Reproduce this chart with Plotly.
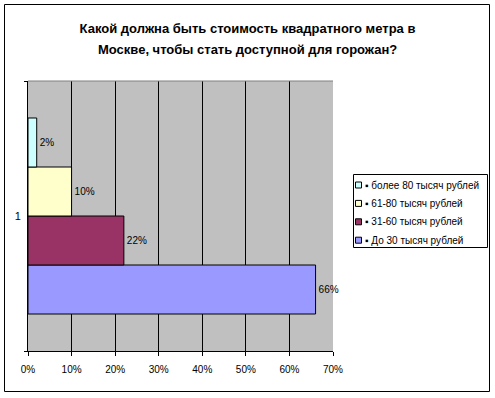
import plotly.graph_objects as go

title_lines = ["Какой должна быть стоимость квадратного метра в",
               "Москве, чтобы стать доступной для горожан?"]
category = ["1"]
series_names = ["До 30 тысяч рублей", "31-60 тысяч рублей", "61-80 тысяч рублей", "более 80 тысяч рублей"]
series_values = [66, 22, 10, 2]
series_colors = ["#9999FF", "#993366", "#FFFFCC", "#CCFFFF"]
x_ticks = [0, 10, 20, 30, 40, 50, 60, 70]

FONT = "Arial, 'Liberation Sans', sans-serif"

fig = go.Figure()
for name, val, col in zip(series_names, series_values, series_colors):
    fig.add_trace(go.Bar(
        y=category, x=[val], name=name, orientation="h",
        marker=dict(color=col, line=dict(color="black", width=1)),
        text=[f"{val}%"], textposition="outside",
        textfont=dict(family=FONT, size=10, color="black"),
        cliponaxis=False, hoverinfo="name+x",
    ))

L, R, T, B = 28, 162, 81, 47
W, H = 495, 398
pw, ph = W - L - R, H - T - B

def px_x(p):
    return (p - L) / pw

def px_y(p):
    return (H - B - p) / ph

shapes = [
    dict(type="rect", xref="paper", yref="paper",
         x0=px_x(4.5), x1=px_x(489.5), y0=px_y(391.5), y1=px_y(4.5),
         line=dict(color="black", width=1), fillcolor="rgba(0,0,0,0)", layer="above"),
    dict(type="line", xref="paper", yref="paper", x0=0, x1=1, y0=1, y1=1,
         line=dict(color="#808080", width=1)),
    # legend box
    dict(type="rect", xref="paper", yref="paper",
         x0=px_x(353.5), x1=px_x(487.5), y0=px_y(247.5), y1=px_y(174.5),
         line=dict(color="black", width=1), fillcolor="white", layer="above"),
]
annotations = [
    dict(text=f"<b>{title_lines[1]}</b>", xref="paper", yref="paper",
         x=px_x(247.5), y=px_y(49), xanchor="center", yanchor="middle", showarrow=False,
         font=dict(family=FONT, size=13, color="black")),
]

# manual legend, top entry = last series
legend_rows = list(zip(series_names, series_colors))[::-1]
row_y0, row_dy = 185, 18.4
for i, (name, col) in enumerate(legend_rows):
    cy = row_y0 + i * row_dy
    shapes.append(dict(type="rect", xref="paper", yref="paper",
                       x0=px_x(355.5), x1=px_x(361.5), y0=px_y(cy + 3), y1=px_y(cy - 3),
                       line=dict(color="black", width=1), fillcolor=col, layer="above"))
    annotations.append(dict(text="▪ " + name, xref="paper", yref="paper",
                            x=px_x(363), y=px_y(cy), xanchor="left", yanchor="middle",
                            showarrow=False,
                            font=dict(family=FONT, size=10, color="black")))

fig.update_layout(
    width=W, height=H,
    margin=dict(l=L, r=R, t=T, b=B, pad=0, autoexpand=False),
    paper_bgcolor="white", plot_bgcolor="#C0C0C0",
    barmode="group", bargap=0.274, bargroupgap=0,
    font=dict(family=FONT, size=10, color="black"),
    title=dict(text=title_lines[0], x=0.5, xref="container", xanchor="center",
               y=1 - 28 / H, yref="container", yanchor="middle",
               font=dict(family=FONT, size=13, color="black", weight="bold")),
    xaxis=dict(range=[0, 70], tickvals=x_ticks, ticktext=[f"{v}%" for v in x_ticks],
               showgrid=True, gridcolor="black", gridwidth=1, showline=True,
               linecolor="black", ticks="outside", ticklen=4, tickcolor="black",
               zeroline=False, tickfont=dict(size=10), automargin=False,
               ticklabelstandoff=5),
    yaxis=dict(type="category", range=[-0.5, 0.5], showline=True, linecolor="black",
               ticks="outside", tickson="boundaries", ticklen=3, tickcolor="black",
               showgrid=False, tickfont=dict(size=11), automargin=False,
               ticklabelstandoff=4),
    shapes=shapes,
    annotations=annotations,
    showlegend=False,
)

fig.write_html("out.html", config={"displayModeBar": False},
               post_script="document.body.style.margin='0';")
